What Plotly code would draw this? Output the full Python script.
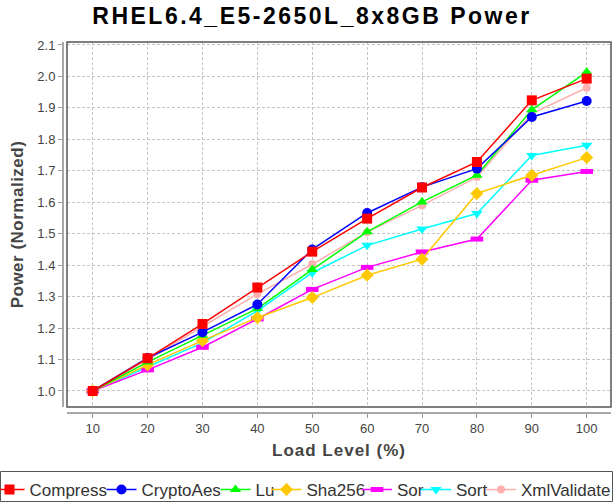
import plotly.graph_objects as go

W, H = 613, 503
PAPER_H = 470  # paper area height (bottom margin holds the legend)

load_levels = [10, 20, 30, 40, 50, 60, 70, 80, 90, 100]
y_ticks = [1.0, 1.1, 1.2, 1.3, 1.4, 1.5, 1.6, 1.7, 1.8, 1.9, 2.0, 2.1]

compress = [1.000, 1.104, 1.213, 1.329, 1.443, 1.548, 1.647, 1.728, 1.924, 1.993]
crypto_aes = [1.000, 1.105, 1.187, 1.275, 1.450, 1.566, 1.648, 1.707, 1.871, 1.922]
lu = [1.000, 1.092, 1.177, 1.262, 1.386, 1.506, 1.601, 1.686, 1.894, 2.014]
sha256 = [1.000, 1.083, 1.160, 1.233, 1.297, 1.368, 1.419, 1.628, 1.686, 1.742]
sor = [1.000, 1.067, 1.139, 1.229, 1.323, 1.393, 1.442, 1.483, 1.670, 1.698]
sort_ = [1.000, 1.077, 1.153, 1.255, 1.376, 1.463, 1.515, 1.564, 1.749, 1.781]
xml_validate = [1.000, 1.100, 1.205, 1.308, 1.403, 1.505, 1.590, 1.680, 1.882, 1.964]

series_names = ["Compress", "CryptoAes", "Lu", "Sha256", "Sor", "Sort", "XmlValidate"]
series_values = [compress, crypto_aes, lu, sha256, sor, sort_, xml_validate]

styles = [
    dict(color="#FF0000", symbol="square", size=10, lw=0),
    dict(color="#0000FF", symbol="circle", size=10, lw=0),
    dict(color="#00FF00", symbol="triangle-up", size=10, lw=0),
    dict(color="#FFC800", symbol="diamond", size=10, lw=0),
    dict(color="#FF00FF", symbol="line-ew", size=9, lw=5),
    dict(color="#00FFFF", symbol="triangle-down", size=10, lw=0),
    dict(color="#FFAFAF", symbol="circle", size=8, lw=0),
]
# per-entry widths (spacing) and which legend box each entry sits in
legend_widths = [67, 69, 6, 45.5, 14, 36, None]
legend_ids = ["legend", "legend", "legend", "legend", "legend", "legend", "legend2"]

FONT = "Liberation Sans, Arial, sans-serif"

fig = go.Figure()
# draw in reverse so Compress sits on top; legendrank keeps legend order
for i in reversed(range(len(series_names))):
    st = styles[i]
    marker = dict(color=st["color"], symbol=st["symbol"], size=st["size"])
    if st["lw"]:
        marker["line"] = dict(color=st["color"], width=st["lw"])
    else:
        marker["line"] = dict(width=0)
    kw = {}
    if legend_widths[i] is not None:
        kw["legendwidth"] = legend_widths[i]
    fig.add_trace(go.Scatter(
        x=load_levels, y=series_values[i], name=series_names[i],
        mode="lines+markers",
        line=dict(color=st["color"], width=1.5),
        marker=marker,
        legendrank=i + 1,
        legend=legend_ids[i],
        **kw,
    ))

px_x = lambda p: p / W
px_y = lambda p: (PAPER_H - p) / PAPER_H

legend_common = dict(
    orientation="h", xanchor="left", yanchor="top",
    y=px_y(472),
    font=dict(family=FONT, size=17, color="#333333"),
    borderwidth=0, bgcolor="rgba(0,0,0,0)",
    itemwidth=30, valign="middle",
)

fig.update_layout(
    width=W, height=H,
    margin=dict(l=0, r=0, t=0, b=H - PAPER_H, autoexpand=False),
    paper_bgcolor="white", plot_bgcolor="white",
    font=dict(family=FONT, color="#444444"),
    title=dict(
        text='<span style="letter-spacing:2.5px">RHEL6.4_E5-2650L_8x8GB Power</span>',
        font=dict(family=FONT, size=23, color="#000000", weight="bold"),
        x=312 / W, xref="container", xanchor="center",
        y=1 - 16 / H, yref="container", yanchor="middle",
    ),
    xaxis=dict(
        domain=[px_x(67), px_x(611)],
        anchor="free", position=px_y(412.5),
        range=[5.318, 104.43],
        tickmode="array", tickvals=load_levels,
        ticks="outside", ticklen=4, tickcolor="#999999", tickwidth=1,
        showline=True, linecolor="#A8A8A8", linewidth=2,
        showgrid=True, gridcolor="#C4C4C4", gridwidth=1, griddash="3px,2px",
        zeroline=False,
        tickfont=dict(size=13, color="#444444"),
        title=dict(text='<span style="letter-spacing:1px">Load Level (%)</span>',
                   font=dict(size=17, color="#444444", weight="bold"), standoff=8),
    ),
    yaxis=dict(
        domain=[px_y(407), px_y(42)],
        anchor="free", position=px_x(63),
        range=[0.9491, 2.1095],
        tickmode="array", tickvals=y_ticks, tickformat=".1f",
        ticks="outside", ticklen=4, tickcolor="#999999", tickwidth=1,
        showline=True, linecolor="#A8A8A8", linewidth=2,
        showgrid=True, gridcolor="#C4C4C4", gridwidth=1, griddash="3px,2px",
        zeroline=False,
        tickfont=dict(size=13, color="#444444"),
        title=dict(text='<span style="letter-spacing:0.5px">Power (Normalized)</span>',
                   font=dict(size=17, color="#444444", weight="bold"), standoff=8),
    ),
    showlegend=True,
    legend=dict(x=px_x(-10.5), **legend_common),
    legend2=dict(x=px_x(481), **legend_common),
    shapes=[
        dict(type="rect", xref="x domain", yref="y domain", x0=0, x1=1, y0=0, y1=1,
             line=dict(color="#555555", width=1.5), fillcolor="rgba(0,0,0,0)", layer="above"),
        dict(type="rect", xref="paper", yref="paper",
             x0=px_x(0.5), x1=px_x(612.5), y0=px_y(501.5), y1=px_y(471.5),
             line=dict(color="#555555", width=1), fillcolor="rgba(0,0,0,0)", layer="above"),
    ],
)

fig.write_html(
    "out.html",
    config={"displayModeBar": False},
    post_script="document.body.style.margin='0';document.body.style.overflow='hidden';",
)
